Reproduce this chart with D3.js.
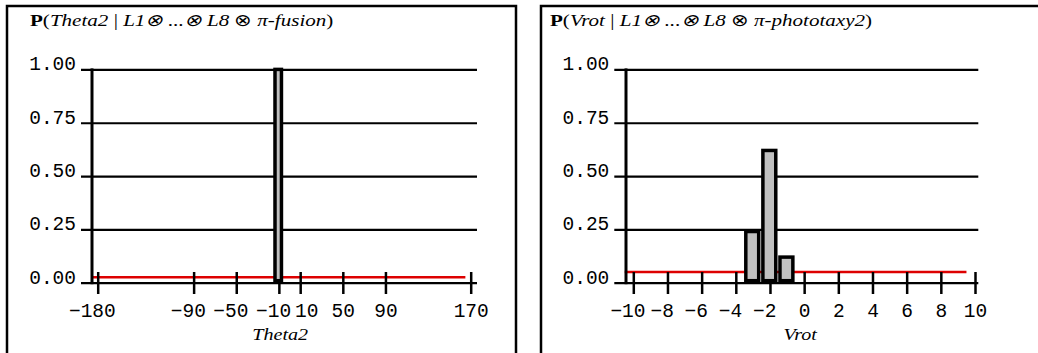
<!DOCTYPE html>
<html>
<head>
<meta charset="utf-8">
<script src="https://cdn.jsdelivr.net/npm/d3@7"></script>
<style>
  body { margin: 0; background: #fff; }
  svg { display: block; }
  .tick text { font-family: "Liberation Mono", monospace; font-size: 19.5px; fill: #000; }
  .ttl { font-family: "Liberation Serif", serif; font-size: 17px; }
  .xttl { font-family: "Liberation Serif", serif; font-size: 17.5px; font-style: italic; }
</style>
</head>
<body>
<div id="chart"></div>
<script>
// probability ticks (shared)
var probTicks = [0, 0.25, 0.5, 0.75, 1];

// left panel: Theta2
var thetaTicks = [-180, -90, -50, -10, 10, 50, 90, 170];
var thetaBins = [-10];
var thetaProbs = [1.0];
var thetaPrior = 0.025;            // uniform prior level (red line)
var thetaPriorRange = [-185, 165];
var thetaBinWidth = 10;

// right panel: Vrot
var vrotTicks = [-10, -8, -6, -4, -2, 0, 2, 4, 6, 8, 10];
var vrotBins = [-3, -2, -1];
var vrotProbs = [0.24, 0.62, 0.12];
var vrotPrior = 0.05;
var vrotPriorRange = [-10.5, 9.5];
var vrotBinWidth = 1;

var svg = d3.select("#chart")
    .append("svg")
        .attr("width", 1038)
        .attr("height", 353);

var y = d3.scaleLinear()
    .domain([0, 1])
    .range([282.7, 69.4]);

drawPanel({
    frame: [7, 516],
    axisX: 92,
    grid: [81, 477],
    x: d3.scaleLinear().domain([-180, 170]).range([97.7, 470.7]),
    ticks: thetaTicks,
    bins: thetaBins, probs: thetaProbs, binWidth: thetaBinWidth,
    prior: thetaPrior, priorRange: thetaPriorRange,
    titleX: 30,
    title: [["P", "bold", "normal"], ["(", "normal", "normal"], ["Theta2", "normal", "italic"],
            [" | ", "normal", "normal"], ["L1", "normal", "italic"], ["\u2297 ...\u2297 ", "normal", "italic"],
            ["L8", "normal", "italic"], [" \u2297 ", "normal", "normal"], ["\u03c0-fusion", "normal", "italic"],
            [")", "normal", "normal"]],
    xTitle: "Theta2"
});

drawPanel({
    frame: [541, 1045],
    axisX: 626,
    grid: [614.3, 978.3],
    x: d3.scaleLinear().domain([-10, 10]).range([633.3, 975]),
    ticks: vrotTicks,
    bins: vrotBins, probs: vrotProbs, binWidth: vrotBinWidth,
    prior: vrotPrior, priorRange: vrotPriorRange,
    titleX: 550,
    title: [["P", "bold", "normal"], ["(", "normal", "normal"], ["Vrot", "normal", "italic"],
            [" | ", "normal", "normal"], ["L1", "normal", "italic"], ["\u2297 ...\u2297 ", "normal", "italic"],
            ["L8", "normal", "italic"], [" \u2297 ", "normal", "normal"], ["\u03c0-phototaxy2", "normal", "italic"],
            [")", "normal", "normal"]],
    xTitle: "Vrot"
});

function drawPanel(p) {

    var g = svg.append("g");
    var x = p.x;

    // frame, open at the bottom
    g.append("path")
        .attr("d", "M" + p.frame[0] + ",360V6H" + p.frame[1] + "V360")
        .attr("fill", "none")
        .attr("stroke", "#000")
        .attr("stroke-width", 2.5);

    // title (the original is a horizontally stretched serif)
    var t = g.append("text")
        .attr("class", "ttl")
        .attr("transform", "translate(" + p.titleX + ",26) scale(1.24,1)");
    t.selectAll("tspan")
        .data(p.title)
        .join("tspan")
            .attr("font-weight", function(d) { return d[1]; })
            .attr("font-style", function(d) { return d[2]; })
            .text(function(d) { return d[0]; });

    // uniform prior (red)
    g.append("line")
        .attr("x1", x(p.priorRange[0]))
        .attr("x2", x(p.priorRange[1]))
        .attr("y1", y(p.prior))
        .attr("y2", y(p.prior))
        .attr("stroke", "#dd0000")
        .attr("stroke-width", 2.5);

    // horizontal grid + y labels
    var ya = g.append("g")
        .attr("transform", "translate(" + p.grid[0] + ",0)")
        .call(d3.axisLeft(y)
            .tickValues(probTicks)
            .tickFormat(d3.format(".2f"))
            .tickSizeInner(-(p.grid[1] - p.grid[0]))
            .tickSizeOuter(0)
            .tickPadding(5));
    ya.select(".domain").remove();
    ya.selectAll(".tick line").attr("stroke", "#000").attr("stroke-width", 2.2);
    ya.selectAll(".tick text").attr("dy", "0.02em");

    // y axis line
    g.append("line")
        .attr("x1", p.axisX).attr("x2", p.axisX)
        .attr("y1", y(1) - 1).attr("y2", y(0) + 1.5)
        .attr("stroke", "#000")
        .attr("stroke-width", 3);

    // x ticks crossing the bottom line
    var xa = g.append("g")
        .attr("transform", "translate(0,272)")
        .call(d3.axisBottom(x)
            .tickValues(p.ticks)
            .tickFormat(d3.format("d"))
            .tickSizeInner(22)
            .tickSizeOuter(0)
            .tickPadding(9));
    xa.select(".domain").remove();
    xa.selectAll(".tick line").attr("stroke", "#000").attr("stroke-width", 2.5);

    // digits centred on the tick, minus sign hangs to the left
    xa.selectAll(".tick text").attr("dx", function(d) { return d < 0 ? "-0.3em" : null; });

    // push a label right if it runs into its neighbour
    var lastRight = -Infinity;
    xa.selectAll(".tick text").each(function() {
        var b = this.getBBox();
        var tr = this.parentNode.transform.baseVal.consolidate();
        var left = b.x + (tr ? tr.matrix.e : 0);
        var shift = 0;
        if (left < lastRight + 4) {
            shift = lastRight + 4 - left;
            d3.select(this).attr("x", shift);
        }
        lastRight = left + shift + b.width;
    });

    // x title
    g.append("text")
        .attr("class", "xttl")
        .attr("transform", "translate(" + ((x.range()[0] + x.range()[1]) / 2 - 4) + ",340) scale(1.15,1)")
        .attr("text-anchor", "middle")
        .text(p.xTitle);

    // bars
    var sw = 3.5;
    g.selectAll(".bar")
        .data(p.bins.map(function(b, i) { return [b, p.probs[i]]; }))
        .join("rect")
            .attr("class", "bar")
            .attr("x", function(d) { return x(d[0] - p.binWidth / 2) - 0.3 + sw / 2; })
            .attr("width", function(d) {
                return x(d[0] + p.binWidth / 2) - x(d[0] - p.binWidth / 2) - 0.7 - sw;
            })
            .attr("y", function(d) { return y(d[1]); })
            .attr("height", function(d) { return y(0) - 2 - y(d[1]); })
            .attr("fill", "#c0c0c0")
            .attr("stroke", "#000")
            .attr("stroke-width", sw);
}
</script>
</body>
</html>
